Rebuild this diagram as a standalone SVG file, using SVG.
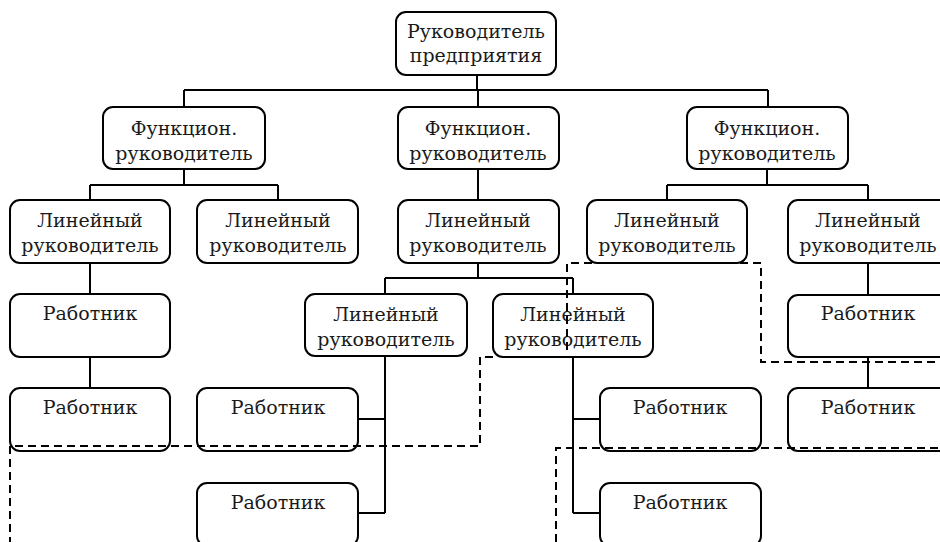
<svg xmlns="http://www.w3.org/2000/svg" width="940" height="542" viewBox="0 0 940 542">
<style>
.box{fill:#fff;stroke:#000;stroke-width:2}
.t{font-family:"DejaVu Serif",serif;font-size:19px;fill:#1a1a1a;text-anchor:middle}
.c{fill:none;stroke:#000;stroke-width:2}
.d{fill:none;stroke:#000;stroke-width:2;stroke-dasharray:8 5}
</style>
<rect width="940" height="542" fill="#fff"/>
<g id="connectors">
<path class="c" d="M477,75V90M184,90H768M184,90V107M478,90V107M768,90V107"/>
<path class="c" d="M184,169V185M90,185H278M90,185V200M278,185V200"/>
<path class="c" d="M478,169V200"/>
<path class="c" d="M767,169V185M667,185H868M667,185V200M868,185V200"/>
<path class="c" d="M90,263V294M90,357V388"/>
<path class="c" d="M478,263V278M385,278H573M385,278V294M573,278V294"/>
<path class="c" d="M385,356V513M358,419H385M358,513H385"/>
<path class="c" d="M573,357V513M573,419H600M573,513H600"/>
<path class="c" d="M868,263V295M868,357V388"/>
</g>
<g id="n_top"><rect class="box" x="396" y="12" width="160" height="63" rx="10"/><text class="t" x="476" y="38">Руководитель</text><text class="t" x="476" y="62">предприятия</text></g>
<g id="n_f1"><rect class="box" x="103" y="107" width="162" height="62" rx="10"/><text class="t" x="184" y="135">Функцион.</text><text class="t" x="184" y="160">руководитель</text></g>
<g id="n_f2"><rect class="box" x="398" y="107" width="161" height="62" rx="10"/><text class="t" x="478" y="135">Функцион.</text><text class="t" x="478" y="160">руководитель</text></g>
<g id="n_f3"><rect class="box" x="687" y="107" width="161" height="62" rx="10"/><text class="t" x="767" y="135">Функцион.</text><text class="t" x="767" y="160">руководитель</text></g>
<g id="n_l1"><rect class="box" x="10" y="200" width="160" height="63" rx="10"/><text class="t" x="90" y="227">Линейный</text><text class="t" x="90" y="252">руководитель</text></g>
<g id="n_l2"><rect class="box" x="197" y="200" width="161" height="63" rx="10"/><text class="t" x="278" y="227">Линейный</text><text class="t" x="278" y="252">руководитель</text></g>
<g id="n_l3"><rect class="box" x="398" y="200" width="161" height="63" rx="10"/><text class="t" x="478" y="227">Линейный</text><text class="t" x="478" y="252">руководитель</text></g>
<g id="n_l4"><rect class="box" x="587" y="200" width="160" height="63" rx="10"/><text class="t" x="667" y="227">Линейный</text><text class="t" x="667" y="252">руководитель</text></g>
<g id="n_l5"><rect class="box" x="788" y="200" width="162" height="63" rx="10"/><text class="t" x="868" y="227">Линейный</text><text class="t" x="868" y="252">руководитель</text></g>
<g id="n_l6"><rect class="box" x="305" y="294" width="162" height="62" rx="10"/><text class="t" x="386" y="321">Линейный</text><text class="t" x="386" y="346">руководитель</text></g>
<g id="n_l7"><rect class="box" x="493" y="294" width="160" height="63" rx="10"/><text class="t" x="573" y="321">Линейный</text><text class="t" x="573" y="346">руководитель</text></g>
<g id="n_w1"><rect class="box" x="10" y="294" width="160" height="63" rx="10"/><text class="t" x="90" y="320">Работник</text></g>
<g id="n_w2"><rect class="box" x="10" y="388" width="160" height="63" rx="10"/><text class="t" x="90" y="414">Работник</text></g>
<g id="n_w3"><rect class="box" x="197" y="388" width="161" height="63" rx="10"/><text class="t" x="278" y="414">Работник</text></g>
<g id="n_w4"><rect class="box" x="197" y="483" width="161" height="63" rx="10"/><text class="t" x="278" y="509">Работник</text></g>
<g id="n_w5"><rect class="box" x="600" y="388" width="161" height="63" rx="10"/><text class="t" x="680" y="414">Работник</text></g>
<g id="n_w6"><rect class="box" x="600" y="483" width="161" height="63" rx="10"/><text class="t" x="680" y="509">Работник</text></g>
<g id="n_w7"><rect class="box" x="788" y="295" width="162" height="62" rx="10"/><text class="t" x="868" y="320">Работник</text></g>
<g id="n_w8"><rect class="box" x="788" y="388" width="162" height="63" rx="10"/><text class="t" x="868" y="414">Работник</text></g>
<g id="dashed">
<path class="d" d="M493,357H480V446H10V542"/>
<path class="d" d="M567,350V263H761V362H940"/>
<path class="d" d="M556,542V448H940"/>
</g>
</svg>
